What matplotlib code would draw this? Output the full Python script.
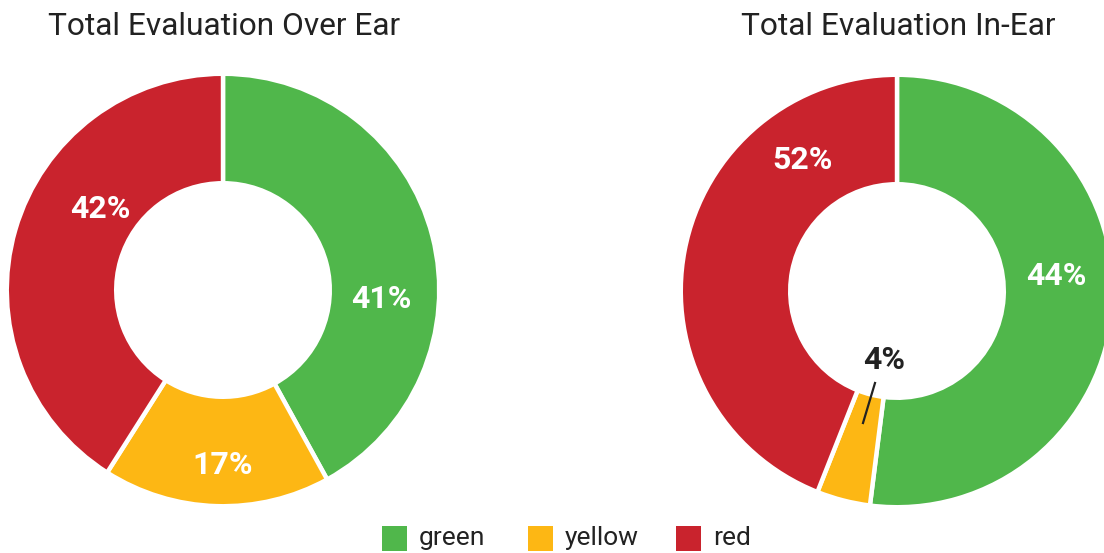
import matplotlib
matplotlib.use("Agg")
import matplotlib.pyplot as plt
from matplotlib.patches import Rectangle

# ---------------- data ----------------
categories = ["green", "yellow", "red"]
colors = ["#50B74B", "#FDB714", "#C9232D"]

over_ear_title = "Total Evaluation Over Ear"
over_ear_values = [42, 17, 41]          # slice sizes as drawn
over_ear_labels = ["41%", "17%", "42%"]  # texts as printed in the reference

in_ear_title = "Total Evaluation In-Ear"
in_ear_values = [52, 4, 44]          # slice sizes as drawn
in_ear_labels = ["44%", "4%", "52%"]  # texts as printed in the reference

# ---------------- layout (pixels, y measured from top) ----------------
W, H = 1104, 553
plt.rcParams['font.family'] = ['Roboto', 'DejaVu Sans']
fig = plt.figure(figsize=(W / 100, H / 100), dpi=100)
ax = fig.add_axes([0, 0, 1, 1])

def Y(y):
    return H - y

R_OUT, R_IN, LW = 214, 109, 3.2
pad = LW * 100 / 72 / 2

charts = [
    dict(title=over_ear_title, values=over_ear_values, labels=over_ear_labels,
         center=(223, 290),
         label_pos=[(381, 299), (223, 465), (100, 209)],
         label_color=["white", "white", "white"]),
    dict(title=in_ear_title, values=in_ear_values, labels=in_ear_labels,
         center=(897, 291),
         label_pos=[(1056, 276), (884, 360), (802, 160)],
         label_color=["white", "#222222", "white"]),
]

for ch in charts:
    cx, cy = ch["center"]
    ax.pie(ch["values"], colors=colors, startangle=90, counterclock=False,
           radius=R_OUT + pad, center=(cx, Y(cy)), frame=True,
           wedgeprops=dict(width=(R_OUT + pad) - (R_IN - pad),
                           edgecolor="white", linewidth=LW))
    ax.text(cx + 1, Y(35), ch["title"], ha="center", va="baseline",
            fontsize=22.8, color="#222222")
    for (lx, ly), txt, col in zip(ch["label_pos"], ch["labels"], ch["label_color"]):
        ax.text(lx, Y(ly), txt, ha="center", va="center", fontsize=23,
                fontweight="bold", color=col)

# leader line for the small slice
ax.plot([875, 863], [Y(383), Y(423)], color="#222222", lw=1.6)

# legend
leg_x = [382, 528, 676]
for x0, name, col in zip(leg_x, categories, colors):
    ax.add_patch(Rectangle((x0, Y(551)), 25, 25, facecolor=col, edgecolor="none"))
    ax.text(x0 + 37, Y(538), name, ha="left", va="center", fontsize=19,
            color="#222222")

ax.set_xlim(0, W)
ax.set_ylim(0, H)
ax.set_aspect("equal")
ax.axis("off")
fig.savefig("out.png", dpi=100)
